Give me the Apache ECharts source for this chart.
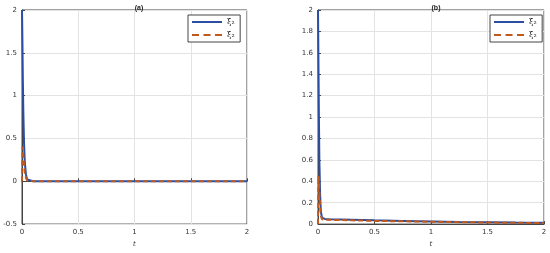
<!DOCTYPE html>
<html>
<head>
<meta charset="utf-8">
<script src="https://cdn.jsdelivr.net/npm/echarts@6/dist/echarts.min.js"></script>
<style>
  html, body { margin: 0; padding: 0; background: #fff; }
  #chart { width: 550px; height: 253px; }
</style>
</head>
<body>
<div id="chart"></div>
<script>
// sample times (dense near t = 0 where the transient happens)
const tVals = [0, 0.004, 0.008, 0.012, 0.018, 0.025, 0.035, 0.045, 0.06, 0.1, 0.3, 0.5, 0.75, 1, 1.25, 1.5, 1.75, 2];

// panel (a)
const aXi1 = [2, 1.6, 1.15, 0.8, 0.45, 0.22, 0.08, 0.02, 0, 0, 0, 0, 0, 0, 0, 0, 0, 0];
const aXi2 = [0, 0.4, 0.38, 0.3, 0.2, 0.1, 0.04, 0.01, 0, 0, 0, 0, 0, 0, 0, 0, 0, 0];

// panel (b)
const bXi1 = [2, 1.5, 1.0, 0.6, 0.3, 0.12, 0.06, 0.05, 0.048, 0.045, 0.04, 0.035, 0.03, 0.025, 0.02, 0.017, 0.014, 0.012];
const bXi2 = [0, 0.45, 0.4, 0.3, 0.18, 0.08, 0.045, 0.04, 0.04, 0.04, 0.035, 0.03, 0.026, 0.022, 0.018, 0.015, 0.012, 0.01];

const names = ["\u03BE\u2082", "\u03BE\u2082 "];
const blue = "#2b4ea2";
const red = "#c05a1c";

const pairs = (ys) => tVals.map((t, i) => [t, ys[i]]);

const chart = echarts.init(document.getElementById("chart"));

const axisCommon = {
  axisLine: { show: true, lineStyle: { color: "#444", width: 1 } },
  axisTick: { show: true, inside: true, length: 3, lineStyle: { color: "#444" } },
  axisLabel: { color: "#333", fontSize: 7, fontFamily: "DejaVu Sans", margin: 5 },
  splitLine: { show: true, lineStyle: { color: "#e3e3e3", width: 1 } },
};

const xAxisOf = (gridIndex) => ({
  ...axisCommon,
  type: "value",
  gridIndex: gridIndex,
  min: 0,
  max: 2,
  interval: 0.5,
  name: "t",
  nameLocation: "middle",
  nameGap: 16,
  nameTextStyle: { fontSize: 7, fontStyle: "italic", color: "#333", fontFamily: "DejaVu Serif" },
});

const lineSeries = (name, data, idx, color, dashed) => ({
  name: name,
  type: "line",
  xAxisIndex: idx,
  yAxisIndex: idx,
  data: data,
  showSymbol: false,
  symbol: "none",
  lineStyle: { color: color, width: 2, type: dashed ? [5, 3] : "solid" },
  itemStyle: { color: color },
});

// legend glyphs: solid bar and three dashes
const solidIcon = "path://M0,0h30v2h-30z";
const dashIcon = "path://M0,0h7v2h-7z M11.5,0h7v2h-7z M23,0h7v2h-7z";

const legendOf = (left) => ({
  show: true,
  data: [
    { name: names[0], icon: solidIcon },
    { name: names[1], icon: dashIcon },
  ],
  orient: "vertical",
  left: left,
  top: 15,
  itemWidth: 30,
  itemHeight: 2,
  itemGap: 5,
  padding: [3, 3, 3, 4],
  backgroundColor: "#fff",
  borderColor: "#444",
  borderWidth: 1,
  borderRadius: 0,
  textStyle: { fontSize: 8, color: "#222", fontFamily: "DejaVu Serif", lineHeight: 8 },
});

const option = {
  animation: false,
  backgroundColor: "#fff",
  title: [
    { text: "(a)", left: 134, top: 0, textAlign: "center", textStyle: { fontSize: 7, fontWeight: "bold", color: "#222" } },
    { text: "(b)", left: 431, top: 0, textAlign: "center", textStyle: { fontSize: 7, fontWeight: "bold", color: "#222" } },
  ],
  grid: [
    { left: 22, right: 303, top: 10, bottom: 20, show: true, borderColor: "#444", borderWidth: 1 },
    { left: 318, right: 6, top: 10, bottom: 20, show: true, borderColor: "#444", borderWidth: 1 },
  ],
  legend: [legendOf(188), legendOf(490)],
  xAxis: [xAxisOf(0), xAxisOf(1)],
  yAxis: [
    { ...axisCommon, type: "value", gridIndex: 0, min: -0.5, max: 2, interval: 0.5 },
    { ...axisCommon, type: "value", gridIndex: 1, min: 0, max: 2, interval: 0.2 },
  ],
  series: [
    lineSeries(names[0], pairs(aXi1), 0, blue, false),
    lineSeries(names[1], pairs(aXi2), 0, red, true),
    lineSeries(names[0], pairs(bXi1), 1, blue, false),
    lineSeries(names[1], pairs(bXi2), 1, red, true),
  ],
};

chart.setOption(option);
</script>
</body>
</html>
